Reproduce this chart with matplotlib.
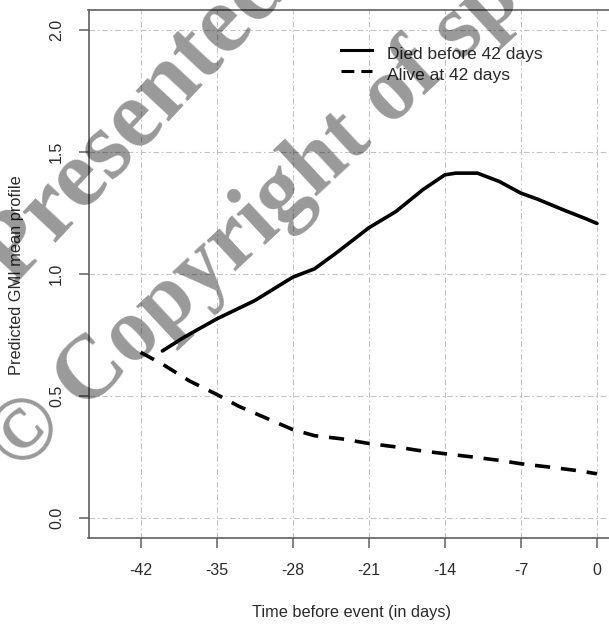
import matplotlib
matplotlib.use("Agg")
import matplotlib.pyplot as plt
from matplotlib.lines import Line2D

plt.rcParams['font.family'] = ['Liberation Sans', 'DejaVu Sans']

# ---- data ----
died_days = [-40, -38, -35, -31.5, -28, -26, -24, -21, -18.5, -16, -14, -13, -11, -9, -7, -5.5, -3, -1, 0]
died_gmi = [0.684, 0.74, 0.815, 0.89, 0.986, 1.02, 1.085, 1.188, 1.255, 1.345, 1.405, 1.412,
            1.412, 1.378, 1.33, 1.306, 1.26, 1.225, 1.206]
alive_days = [-42, -40, -37.5, -35, -33, -30.5, -28, -26, -23.5, -21, -18.5, -16.5, -14, -11.5,
              -9, -7, -4.5, -2, 0]
alive_gmi = [0.678, 0.63, 0.561, 0.506, 0.458, 0.41, 0.362, 0.337, 0.324, 0.305, 0.291, 0.277,
             0.263, 0.25, 0.236, 0.222, 0.209, 0.195, 0.181]
x_ticks = [-42, -35, -28, -21, -14, -7, 0]
x_tick_labels = ['-42', '-35', '-28', '-21', '-14', '-7', '0']
y_ticks = [0.0, 0.5, 1.0, 1.5, 2.0]
y_tick_labels = ['0.0', '0.5', '1.0', '1.5', '2.0']
series_labels = ['Died before 42 days', 'Alive at 42 days']

W, H = 609, 624
fig = plt.figure(figsize=(W / 100, H / 100), dpi=100)
fig.patch.set_facecolor('white')

def fx(px):
    return px / W

def fy(py):
    return 1 - py / H

ax = fig.add_axes([fx(88.5), fy(537.5), (616.5 - 88.5) / W, (537.5 - 10) / H])
ax.set_xlim(-46.8, 1.8)
ax.set_ylim(-0.08, 2.08)

grid_kw = dict(color='#c4c4c4', lw=0.8, dashes=(5, 2.5, 1.5, 2.5), zorder=1)
for xv in x_ticks:
    ax.axvline(xv, **grid_kw)
for yv in y_ticks:
    ax.axhline(yv, **grid_kw)

ax.plot(died_days, died_gmi, color='black', lw=2.6, solid_capstyle='round', zorder=3)
ax.plot(alive_days, alive_gmi, color='black', lw=2.6, dashes=(4.2, 3.0), dash_capstyle='butt', zorder=3)

for s in ax.spines.values():
    s.set_color('#606060')
    s.set_linewidth(1.2)

ax.set_xticks(x_ticks)
ax.set_xticklabels(x_tick_labels)
ax.set_yticks(y_ticks)
ax.set_yticklabels(y_tick_labels, rotation=90, va='center')
ax.tick_params(axis='both', direction='out', length=7.5, width=1.1, color='#606060',
               labelsize=11.5, labelcolor='#2a2a2a')
ax.tick_params(axis='x', pad=11)
ax.tick_params(axis='y', pad=10)

# legend (no frame), placed in pixel positions
leg_x0, leg_x1 = 341, 372
ax_tr = fig.transFigure
fig.add_artist(Line2D([fx(leg_x0), fx(leg_x1)], [fy(49.5), fy(49.5)], transform=ax_tr,
                      color='black', lw=2.2))
fig.add_artist(Line2D([fx(leg_x0), fx(leg_x1)], [fy(71), fy(71)], transform=ax_tr,
                      color='black', lw=2.2, dashes=(4.2, 2.3)))
fig.text(fx(387.5), fy(59.5), series_labels[0], fontsize=12.5, color='#2a2a2a', va='baseline')
fig.text(fx(387.5), fy(80), series_labels[1], fontsize=12.5, color='#2a2a2a', va='baseline')

fig.text(fx(352), fy(617), 'Time before event (in days)', fontsize=11.8, color='#2a2a2a',
         ha='center', va='baseline')
fig.text(fx(16.7), fy(275), 'Predicted GMI mean profile', fontsize=11.8, color='#2a2a2a',
         ha='center', va='center', rotation=90)

# watermark
wm = dict(family=['Liberation Serif', 'DejaVu Serif'], weight='bold', color='black', alpha=0.4,
          rotation_mode='anchor', ha='left', va='baseline', zorder=10)
fig.text(fx(14), fy(286), 'Presented', fontsize=70, rotation=47, **wm)
fig.text(fx(18.4), fy(474), '\u00a9 Copyright of sp', fontsize=65, rotation=43, **wm)

fig.savefig('out.png', dpi=100, facecolor='white')
